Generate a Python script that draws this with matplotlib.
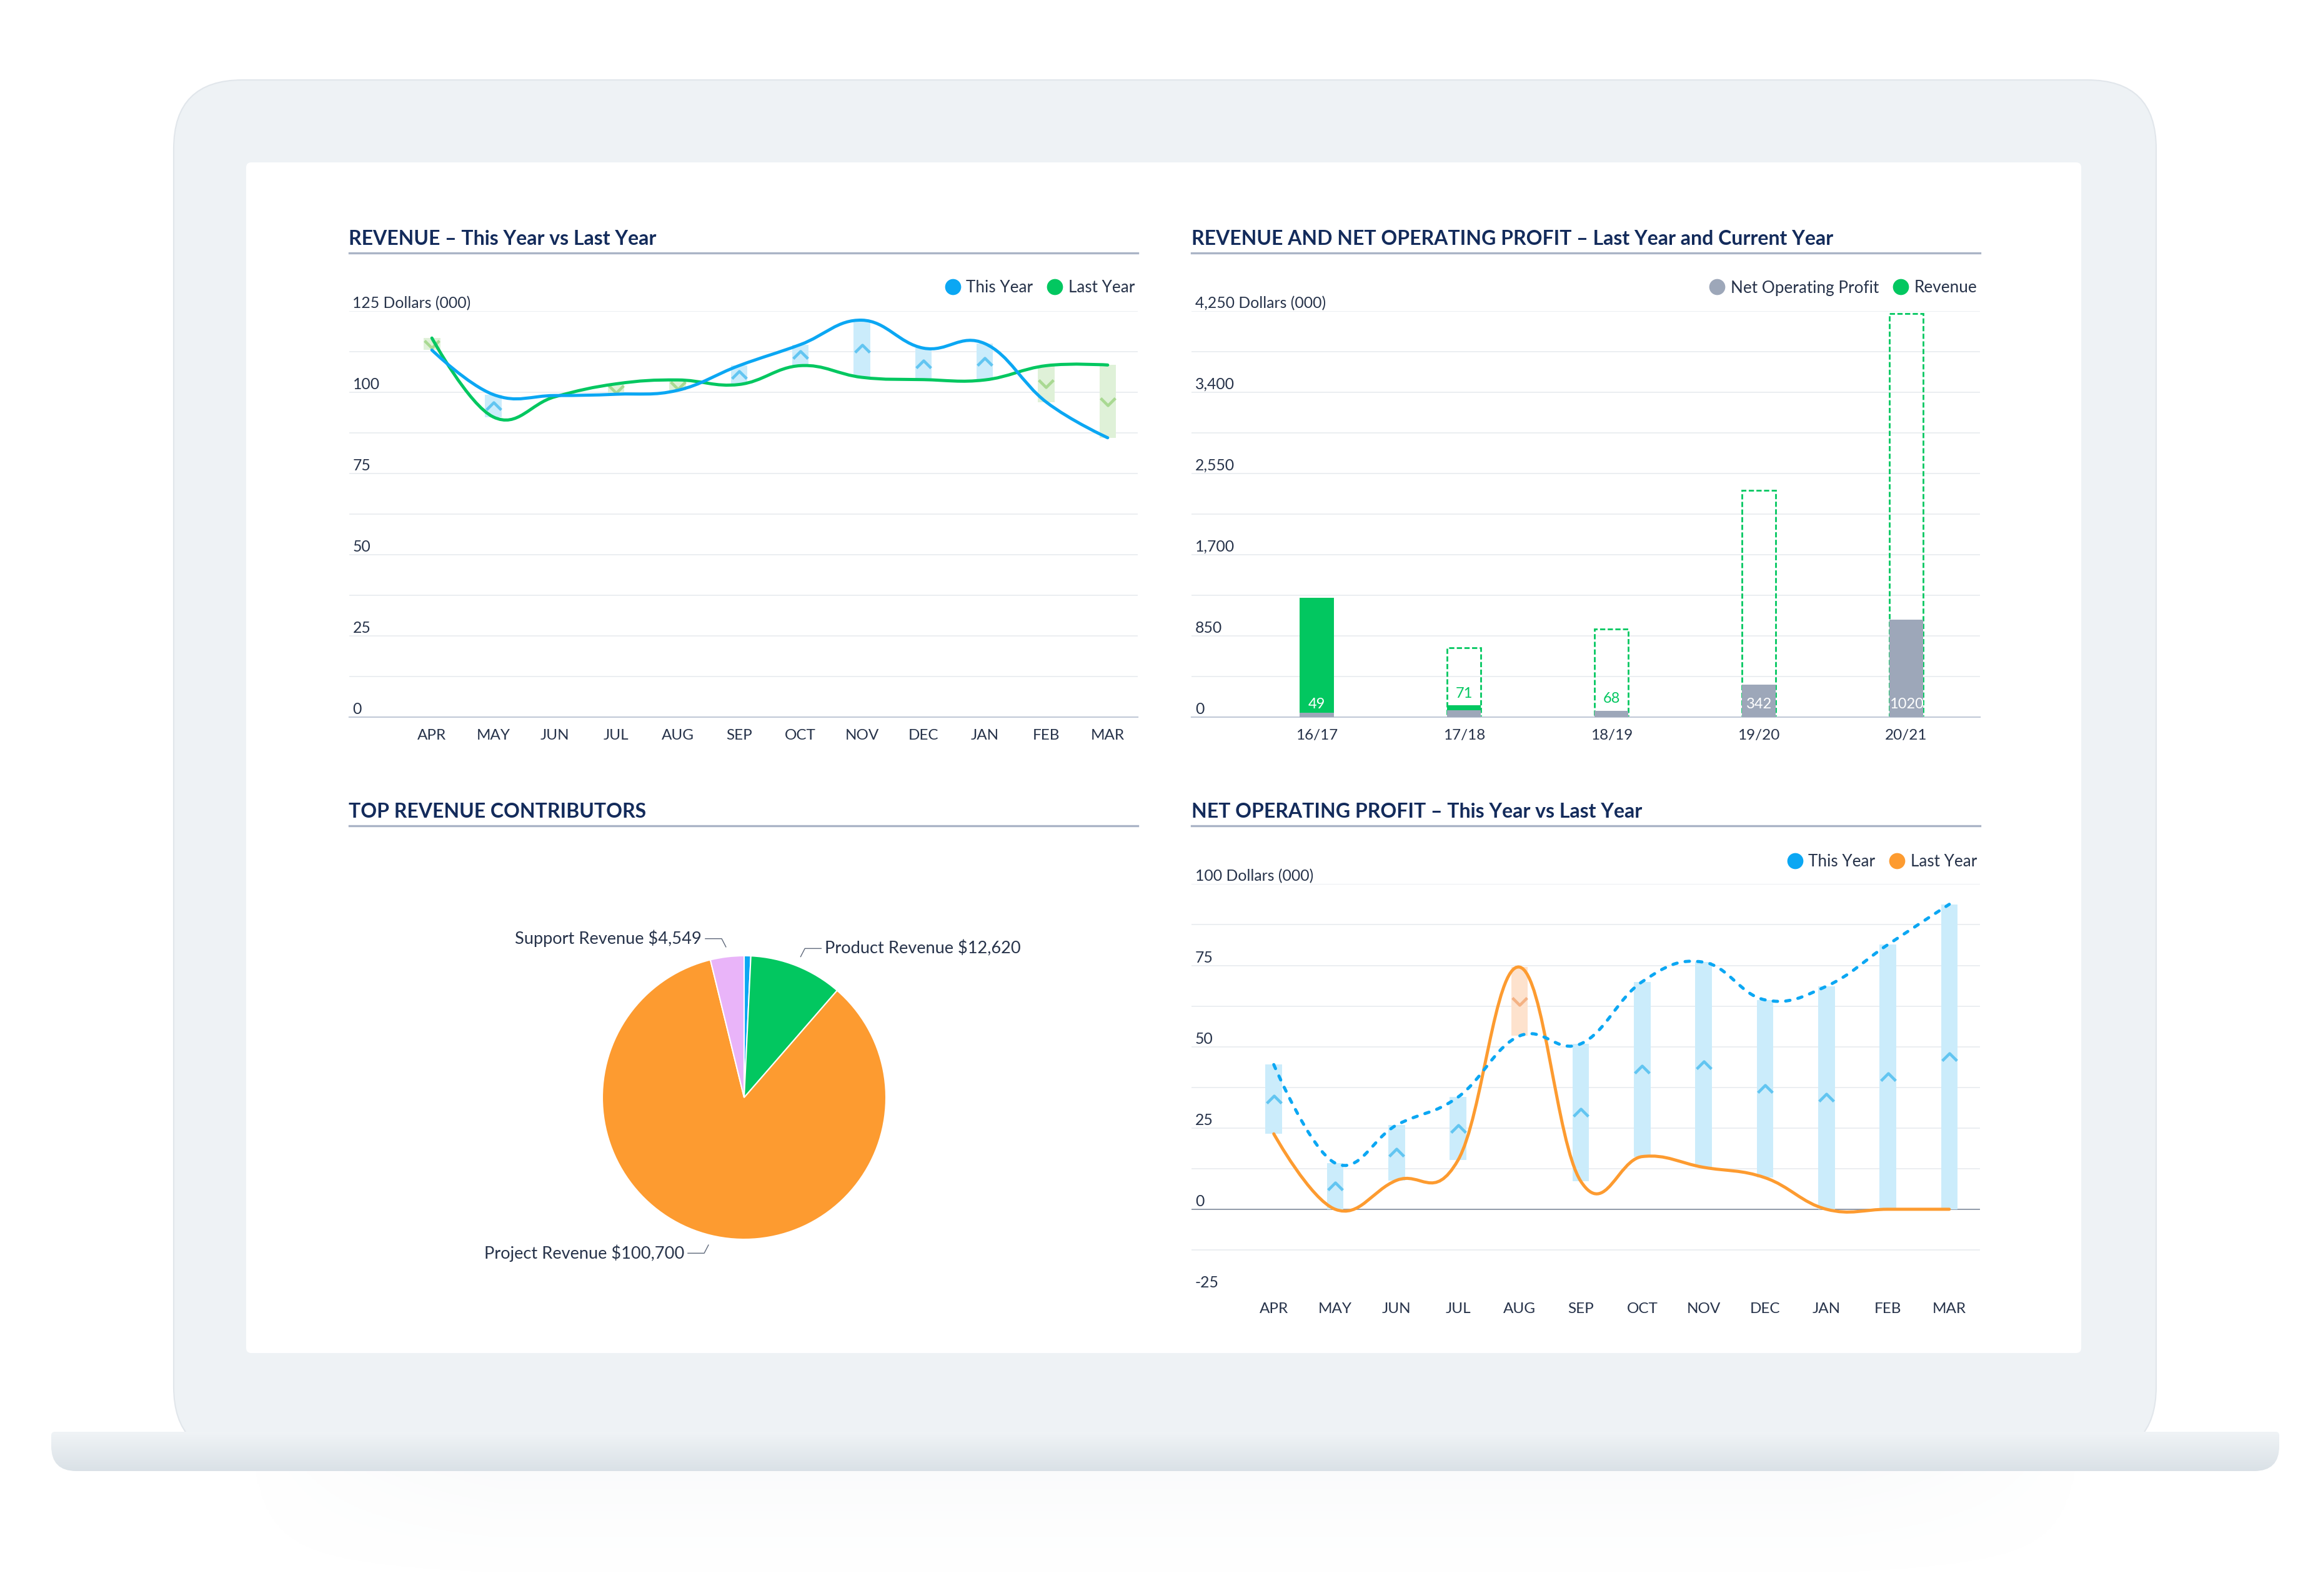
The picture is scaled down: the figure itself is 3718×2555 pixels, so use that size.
import numpy as np
import matplotlib
matplotlib.use("Agg")
import matplotlib.pyplot as plt
import matplotlib.transforms as mtransforms
from matplotlib.path import Path
from matplotlib.patches import PathPatch, FancyBboxPatch
from matplotlib.lines import Line2D

plt.rcParams['font.family'] = ['Lato', 'DejaVu Sans']

W, H = 3718, 2555

# ---- data ----
months = ["APR", "MAY", "JUN", "JUL", "AUG", "SEP", "OCT", "NOV", "DEC", "JAN", "FEB", "MAR"]
rev_this = [113.0, 99.3, 99.0, 99.4, 100.6, 108.2, 114.7, 122.2, 113.6, 115.0, 97.0, 86.0]
rev_last = [116.7, 92.4, 98.6, 102.6, 103.8, 102.4, 108.2, 104.6, 103.9, 103.8, 108.2, 108.4]

years = ["16/17", "17/18", "18/19", "19/20", "20/21"]
nop_year = [49, 71, 68, 342, 1020]
revenue_year = [1250, 728, 920, 2376, 4224]
revenue_booked = [1250, 122, 0, 0, 0]

pie_names = ["Other Revenue", "Product Revenue", "Project Revenue", "Support Revenue"]
pie_values = [900, 12620, 100700, 4549]
pie_shown = [False, True, True, True]

nop_this = [44.5, 14.2, 25.9, 34.5, 53.3, 50.9, 70.0, 76.0, 64.4, 68.6, 81.4, 93.8]
nop_last = [23.2, 0.0, 8.9, 15.1, 74.5, 8.6, 16.2, 12.9, 9.7, 0.0, 0.0, 0.0]

# ---- colours ----
NAVY = "#132b5b"
TXT = "#27334a"
GRID = "#e5e9ee"
AXIS = "#c3cad8"
BLUE = "#0ba7f3"
GREEN = "#02c760"
ORANGE = "#fd9b30"
GREY = "#9da7b9"
PINK = "#e9b4f9"

fig = plt.figure(figsize=(W / 100, H / 100), dpi=100)
fig.patch.set_facecolor("white")

# ---- laptop mock-up in pixel space ----
bg = fig.add_axes([0, 0, 1, 1])
bg.set_xlim(0, W)
bg.set_ylim(H, 0)
bg.axis("off")

# soft shadow under the base (fades downwards and towards the sides)
vy = np.linspace(1, 0, 200)[:, None] ** 1.5
hx = np.linspace(-1, 1, 400)[None, :]
rgba = np.zeros((200, 400, 4))
rgba[..., :3] = (0.62, 0.68, 0.73)
rgba[..., 3] = 0.05 * vy * np.clip(1.6 - 1.6 * np.abs(hx) ** 3, 0, 1)
bg.imshow(rgba, extent=(380, 3350, 2555, 2352), aspect="auto", zorder=0)

bg.add_patch(FancyBboxPatch((278, 128), 3451 - 278, 2330 - 128,
                            boxstyle="round,pad=0,rounding_size=110",
                            fc="#eef2f5", ec="#e1e6eb", lw=1.5, zorder=1))
bg.add_patch(FancyBboxPatch((394, 260), 3331 - 394, 2166 - 260,
                            boxstyle="round,pad=0,rounding_size=8",
                            fc="white", ec="none", zorder=2))

bx0, bx1, by0, by1, rt, rb = 82, 3648, 2292, 2355, 6, 40
base_path = Path(
    [(bx0 + rt, by0), (bx1 - rt, by0), (bx1, by0), (bx1, by0 + rt), (bx1, by1 - rb),
     (bx1, by1), (bx1 - rb, by1), (bx0 + rb, by1), (bx0, by1), (bx0, by1 - rb),
     (bx0, by0 + rt), (bx0, by0), (bx0 + rt, by0), (bx0 + rt, by0)],
    [Path.MOVETO, Path.LINETO, Path.CURVE3, Path.CURVE3, Path.LINETO,
     Path.CURVE3, Path.CURVE3, Path.LINETO, Path.CURVE3, Path.CURVE3,
     Path.LINETO, Path.CURVE3, Path.CURVE3, Path.CLOSEPOLY])
base_patch = PathPatch(base_path, fc="none", ec="none", zorder=3)
bg.add_patch(base_patch)
grad = np.linspace(0, 1, 64)[:, None]
top_c = np.array([0.94, 0.955, 0.965])
bot_c = np.array([0.855, 0.883, 0.905])
base_img = (top_c * (1 - grad[..., None]) + bot_c * grad[..., None]) * np.ones((1, 4, 1))
im = bg.imshow(base_img, extent=(bx0, bx1, by1, by0), aspect="auto", zorder=3)
im.set_clip_path(base_patch)


def px_axes(x0, y0, x1, y1):
    a = fig.add_axes([x0 / W, 1 - y1 / H, (x1 - x0) / W, (y1 - y0) / H])
    a.set_facecolor("none")
    a.hpx = y1 - y0
    return a


def panel(ax, title):
    for s in ax.spines.values():
        s.set_visible(False)
    h = ax.hpx
    ax.text(0, 1 + 116 / h, title, transform=ax.transAxes, ha="left", va="center",
            fontsize=23, fontweight="bold", color=NAVY)
    ax.add_line(Line2D([0, 1], [1 + 93.5 / h] * 2, transform=ax.transAxes,
                       color="#aab4c6", lw=2.4, clip_on=False))


def y_labels(ax, vals, texts):
    tr = mtransforms.offset_copy(ax.get_yaxis_transform(), fig=fig, x=6, y=5, units="dots")
    for v, t in zip(vals, texts):
        ax.text(0, v, t, transform=tr, ha="left", va="baseline", fontsize=17.8, color=TXT)


def grid(ax, ticks):
    ax.set_yticks(ticks)
    ax.yaxis.grid(True, color=GRID, lw=1.1)
    ax.set_axisbelow(True)
    ax.tick_params(axis="y", length=0, labelleft=False)


def month_axis(ax, labels):
    ax.set_xticks(range(len(labels)))
    ax.set_xticklabels(labels)
    ax.tick_params(axis="x", length=0, pad=13.5, labelsize=17.5, labelcolor=TXT)


def legend(ax, names, colors, y):
    hs = [Line2D([], [], ls="", marker="o", ms=17.5, color=c) for c in colors]
    ax.legend(hs, names, loc="center right", bbox_to_anchor=(0.996, y), ncol=len(names),
              frameon=False, fontsize=18.8, labelcolor=TXT, handlelength=0.95,
              handletextpad=0.35, columnspacing=0.85, borderpad=0, borderaxespad=0)


def spline_path(xs, ys, smooth=1.5):
    n = len(xs)
    lc, rc = [None] * n, [None] * n
    for i in range(n):
        x, y = xs[i], ys[i]
        if 0 < i < n - 1:
            d = smooth + 1
            lcx, lcy = (smooth * x + xs[i - 1]) / d, (smooth * y + ys[i - 1]) / d
            rcx, rcy = (smooth * x + xs[i + 1]) / d, (smooth * y + ys[i + 1]) / d
            corr = (rcy - lcy) * (rcx - x) / (rcx - lcx) + y - rcy
            lc[i], rc[i] = (lcx, lcy + corr), (rcx, rcy + corr)
        else:
            lc[i] = rc[i] = (x, y)
    verts, codes = [(xs[0], ys[0])], [Path.MOVETO]
    for i in range(1, n):
        verts += [rc[i - 1], lc[i], (xs[i], ys[i])]
        codes += [Path.CURVE4] * 3
    return Path(verts, codes)


CHEV_UP = Path([(-1, -0.5), (0, 0.5), (1, -0.5)], [Path.MOVETO, Path.LINETO, Path.LINETO])
CHEV_DN = Path([(-1, 0.5), (0, -0.5), (1, 0.5)], [Path.MOVETO, Path.LINETO, Path.LINETO])


def diff_bars(ax, this, last, up_bar, up_mark, dn_bar, dn_mark):
    x = np.arange(len(this))
    for xi, a, b in zip(x, this, last):
        if abs(a - b) < 1:
            continue
        up = a > b
        ax.bar(xi, abs(a - b), bottom=min(a, b), width=0.27,
               color=up_bar if up else dn_bar, zorder=2, lw=0)
        ax.plot(xi, (a + b) / 2, ls="", marker=CHEV_UP if up else CHEV_DN, ms=17,
                mfc="none", mec=up_mark if up else dn_mark, mew=3.3, zorder=3)


# ---- REVENUE – This Year vs Last Year ----
ax1 = px_axes(558.5, 498, 1821, 1148)
panel(ax1, "REVENUE \u2013 This Year vs Last Year")
ax1.set_xlim(-1.35, 11.49)
ax1.set_ylim(0, 125)
grid(ax1, np.arange(12.5, 125.1, 12.5))
ax1.spines["bottom"].set_visible(True)
ax1.spines["bottom"].set_color(AXIS)
ax1.spines["bottom"].set_linewidth(1.6)
month_axis(ax1, months)
y_labels(ax1, [125, 100, 75, 50, 25, 0],
         ["125 Dollars (000)", "100", "75", "50", "25", "0"])
diff_bars(ax1, rev_this, rev_last, "#cbecfb", "#62c5f1", "#dff1d8", "#a9d992")
xm = np.arange(len(months))
ax1.add_patch(PathPatch(spline_path(xm, rev_last), fill=False, ec=GREEN, lw=3.6,
                        capstyle="round", zorder=4))
ax1.add_patch(PathPatch(spline_path(xm, rev_this), fill=False, ec=BLUE, lw=3.6,
                        capstyle="round", zorder=5))
legend(ax1, ["This Year", "Last Year"], [BLUE, GREEN], 1 + 37 / ax1.hpx)

# ---- REVENUE AND NET OPERATING PROFIT ----
ax2 = px_axes(1907, 498, 3169, 1148)
panel(ax2, "REVENUE AND NET OPERATING PROFIT \u2013 Last Year and Current Year")
ax2.set_xlim(-0.85, 4.5)
ax2.set_ylim(0, 4250)
grid(ax2, np.arange(425, 4251, 425))
ax2.spines["bottom"].set_visible(True)
ax2.spines["bottom"].set_color(AXIS)
ax2.spines["bottom"].set_linewidth(1.6)
month_axis(ax2, years)
y_labels(ax2, [4250, 3400, 2550, 1700, 850, 0],
         ["4,250 Dollars (000)", "3,400", "2,550", "1,700", "850", "0"])
xy = np.arange(len(years))
bw = 0.229
for i in xy:
    if revenue_booked[i] < revenue_year[i]:
        ax2.bar(i, revenue_year[i], width=bw, fill=False, ec=GREEN, lw=2.0,
                ls=(0, (3.0, 1.4)), zorder=2)
    if revenue_booked[i] > nop_year[i]:
        ax2.bar(i, revenue_booked[i] - nop_year[i], bottom=nop_year[i], width=bw,
                color=GREEN, lw=0, zorder=3)
ax2.bar(xy, nop_year, width=bw, color=GREY, lw=0, zorder=3)
for i in xy:
    top = max(revenue_booked[i], nop_year[i])
    filled = top > 200
    ax2.annotate(str(nop_year[i]), (i, 0 if filled else top),
                 xytext=(0, 15 if filled else 13.5), textcoords="offset points",
                 ha="center", va="center", fontsize=17, zorder=6,
                 color="white" if filled else GREEN)
legend(ax2, ["Net Operating Profit", "Revenue"], [GREY, GREEN], 1 + 37 / ax2.hpx)

# ---- TOP REVENUE CONTRIBUTORS ----
ax3 = px_axes(558.5, 1415.4, 1821, 2066)
panel(ax3, "TOP REVENUE CONTRIBUTORS")
ax3.set_xticks([])
ax3.set_yticks([])

R, cx, cy = 227, 1191, 1757
axp = px_axes(cx - 1.6 * R, cy - 1.6 * R, cx + 1.6 * R, cy + 1.6 * R)
axp.axis("off")
wedges, _ = axp.pie(pie_values, colors=[BLUE, GREEN, ORANGE, PINK], startangle=90,
                    counterclock=False, radius=1,
                    wedgeprops=dict(edgecolor="white", linewidth=1.5))
axp.set_xlim(-1.6, 1.6)
axp.set_ylim(-1.6, 1.6)
axp.set_aspect("equal")
for w, name, val, show in zip(wedges, pie_names, pie_values, pie_shown):
    if not show:
        continue
    ang = np.deg2rad((w.theta1 + w.theta2) / 2)
    p0 = np.array([np.cos(ang), np.sin(ang)]) * 1.07
    sx = 1 if p0[0] > 0 else -1
    sy = 1 if p0[1] > 0 else -1
    p1 = p0 + [sx * 0.03, sy * 0.058]
    p2 = p1 + [sx * 0.115, 0]
    axp.plot([p0[0], p1[0], p2[0]], [p0[1], p1[1], p2[1]], color="#5e687a", lw=1.0,
             clip_on=False)
    axp.text(p2[0] + sx * 0.026, p2[1], f"{name} ${val:,}", ha="left" if sx > 0 else "right",
             va="center", fontsize=19.6, color=TXT, clip_on=False)

# ---- NET OPERATING PROFIT – This Year vs Last Year ----
ax4 = px_axes(1907, 1415.4, 3169, 2066)
panel(ax4, "NET OPERATING PROFIT \u2013 This Year vs Last Year")
ax4.set_xlim(-1.34, 11.5)
ax4.set_ylim(-25, 100)
grid(ax4, [-12.5, 12.5, 25, 37.5, 50, 62.5, 75, 87.5, 100])
ax4.axhline(0, color="#8f99a8", lw=1.4, zorder=1)
month_axis(ax4, months)
y_labels(ax4, [100, 75, 50, 25, 0, -25],
         ["100 Dollars (000)", "75", "50", "25", "0", "-25"])
diff_bars(ax4, nop_this, nop_last, "#cbecfb", "#62c5f1", "#fde2cd", "#f4b284")
ax4.add_patch(PathPatch(spline_path(xm, nop_last), fill=False, ec=ORANGE, lw=3.6,
                        capstyle="round", zorder=4))
ax4.add_patch(PathPatch(spline_path(xm, nop_this), fill=False, ec=BLUE, lw=3.6,
                        ls=(0, (1.4, 2.6)), capstyle="round", zorder=5))
legend(ax4, ["This Year", "Last Year"], [BLUE, ORANGE], 1 + 36 / ax4.hpx)

fig.savefig("out.png", dpi=100, facecolor="white")
